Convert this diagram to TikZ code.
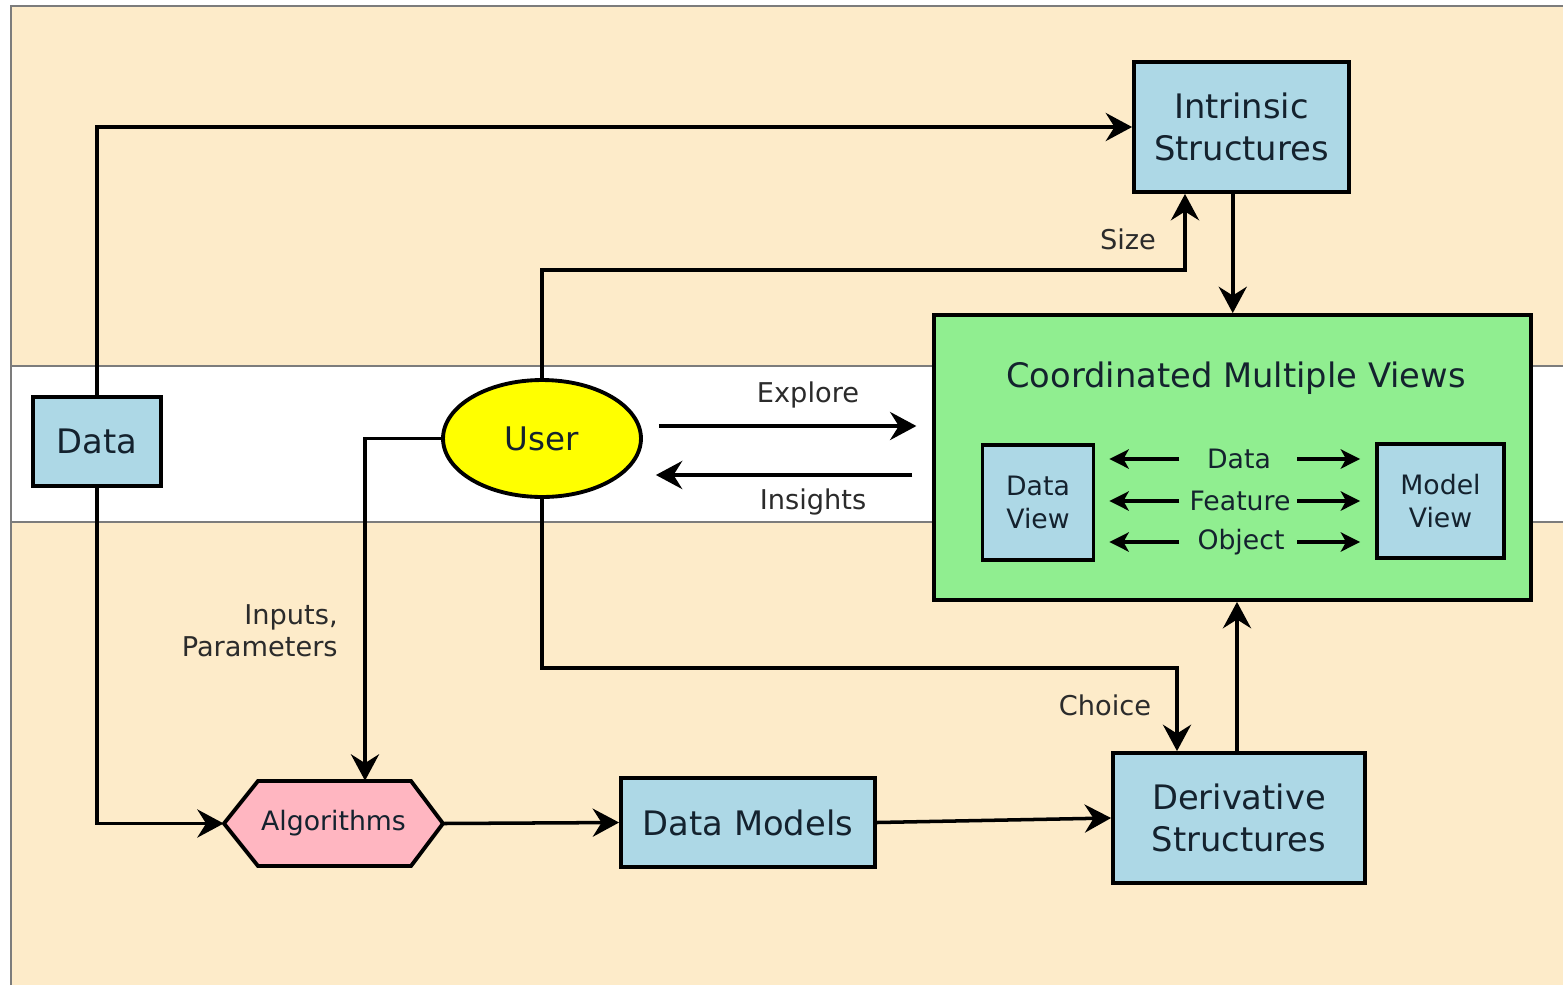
\documentclass[tikz,border=0pt]{standalone}
\usepackage{fontspec}
\setmainfont{DejaVu Sans}
\usetikzlibrary{arrows.meta,calc,shapes.geometric}

\definecolor{bandbeige}{HTML}{FDEBC9}
\definecolor{boxblue}{HTML}{ADD8E6}
\definecolor{viewgreen}{HTML}{90EE90}
\definecolor{algpink}{HTML}{FFB6C1}
\definecolor{useryellow}{HTML}{FFFF00}
\definecolor{inkdark}{HTML}{14222E}
\definecolor{labelgray}{HTML}{2B2B2B}
\definecolor{bandedge}{HTML}{7C7C7C}

\begin{document}
\begin{tikzpicture}[x=0.02cm,y=-0.02cm,
  box/.style={draw=black, line width=2.2pt, fill=boxblue, text=inkdark,
              align=center, inner sep=0pt},
  big/.style={font=\fontsize{19.2}{23.5}\selectfont},
  small/.style={font=\fontsize{15.2}{18.7}\selectfont},
  conn/.style={draw=black, line width=2pt,
               -{Stealth[length=15pt,width=16pt,inset=5pt]}},
  inarr/.style={draw=black, line width=1.8pt,
                -{Stealth[length=11pt,width=11pt,inset=3pt]}},
  elabel/.style={text=labelgray, font=\fontsize{15.5}{18.5}\selectfont,
                 align=right, inner sep=0pt},
  inlabel/.style={text=inkdark, font=\fontsize{15.2}{18}\selectfont, inner sep=0pt},
  bandline/.style={draw=bandedge, line width=1.2pt}
]
\useasboundingbox (0,0) rectangle (1563,985);

% background bands
\fill[white] (0,0) rectangle (1563,985);
\fill[bandbeige] (11,6) rectangle (1563,366);
\fill[bandbeige] (11,522) rectangle (1563,985);
\draw[bandline] (11,985) -- (11,6) -- (1563,6);
\draw[bandline] (11,366) -- (1563,366);
\draw[bandline] (11,522) -- (1563,522);

% main nodes
\node[box, big, minimum width=2.56cm, minimum height=1.78cm] (data) at (97,441.5) {Data};
\node[ellipse, draw=black, line width=2.2pt, fill=useryellow, text=inkdark,
      minimum width=3.96cm, minimum height=2.34cm, inner sep=0pt,
      font=\fontsize{18.5}{22}\selectfont] (user) at (542,438.5) {User};
\node[box, big, minimum width=4.30cm, minimum height=2.60cm] (intr) at (1241.5,127) {Intrinsic\\Structures};
\node[draw=black, line width=2.2pt, fill=viewgreen, minimum width=11.94cm,
      minimum height=5.70cm, inner sep=0pt] (cmv) at (1232.75,457.5) {};
\node[text=inkdark, big, inner sep=0pt] (cmvtitle) at (1236,378) {Coordinated Multiple Views};
\node[box, small, minimum width=2.22cm, minimum height=2.30cm] (dv) at (1038,502.5) {Data\\View};
\node[box, small, minimum width=2.54cm, minimum height=2.28cm] (mv) at (1440.5,501) {Model\\View};
\node[box, big, minimum width=5.08cm, minimum height=1.78cm] (dm) at (748,822.5) {Data Models};
\node[box, big, minimum width=5.04cm, minimum height=2.60cm] (deriv) at (1239,818) {Derivative\\Structures};

% hexagonal algorithm block
\coordinate (algc) at (333.5,823.5);
\draw[line width=2.2pt, fill=algpink]
  ($(algc)+(-109.5,0)$) -- ($(algc)+(-75.5,-42.5)$) -- ($(algc)+(77.5,-42.5)$)
  -- ($(algc)+(109.5,0)$) -- ($(algc)+(77.5,42.5)$) -- ($(algc)+(-75.5,42.5)$) -- cycle;
\node[small, text=inkdark, minimum width=4.38cm, minimum height=1.70cm, inner sep=0pt]
  (alg) at (algc) {Algorithms};

% labels inside the coordinated views
\node[inlabel] (r1) at (1239,459) {Data};
\node[inlabel] (r2) at (1240,501) {Feature};
\node[inlabel] (r3) at (1241,542) {Object};
\foreach \r in {r1,r2,r3} {
  \draw[inarr] ($(dv.east |- \r)+(84,0)$) -- ($(dv.east |- \r)+(14,0)$);
  \draw[inarr] ($(mv.west |- \r)+(-78,0)$) -- ($(mv.west |- \r)+(-15,0)$);
}

% connectors
\draw[conn] (data.north) |- (intr.west);
\draw[conn] (data.south) |- (alg.west);

\coordinate (sizebend) at (1185,270);
\draw[conn] (user.north) |- (sizebend) -- (sizebend |- intr.south);
\draw[conn] (cmv.north |- intr.south) -- (cmv.north);

\coordinate (inbend) at (365,0);
\draw[conn] (user.west) -| (inbend |- alg.north);

\coordinate (choicebend) at (1177,668);
\draw[conn] (user.south) |- (choicebend) -- (choicebend |- deriv.north);
\coordinate (upx) at (1237,0);
\draw[conn] (upx |- deriv.north) -- (upx |- cmv.south);

\coordinate (explorey) at (0,426);
\coordinate (insighty) at (0,475);
\draw[conn, shorten <=0.32cm, shorten >=0.32cm] (user.east |- explorey) -- (cmv.west |- explorey);
\draw[conn, shorten <=0.4cm, shorten >=0.26cm] (cmv.west |- insighty) -- (user.east |- insighty);

\draw[conn] (alg.east) -- (dm.west);
\draw[conn] (dm.east) -- (deriv.west);

% connector labels
\node[elabel] (lsize) at (1128,239) {Size};
\node[elabel, anchor=east] (linputs) at (338,631) {Inputs,\\Parameters};
\node[elabel] (lexplore) at (808,395) {Explore};
\node[elabel] (linsights) at (813,502) {Insights};
\node[elabel] (lchoice) at (1105,705) {Choice};
\end{tikzpicture}
\end{document}
